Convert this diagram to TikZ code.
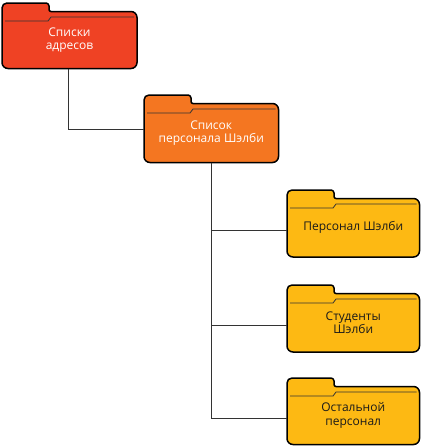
\documentclass[tikz,border=0pt]{standalone}
\usepackage{fontspec}
\setmainfont{Open Sans}
\usetikzlibrary{backgrounds}
\definecolor{cred}{HTML}{EF4224}
\definecolor{corange}{HTML}{F47621}
\definecolor{cgold}{HTML}{FDB913}
\definecolor{ctext}{HTML}{1A1A1A}
\tikzset{
  fbody/.style={draw=none, inner sep=0pt, outer sep=0pt, align=center,
    font=\fontsize{12}{13.5}\selectfont},
  folderline/.style={draw=black, line width=1.5pt, line join=round},
  innerline/.style={draw=black!80, line width=0.8pt},
  conn/.style={draw=black!80, line width=0.9pt},
}
\newcommand\folder[8]{%
  \pgfmathsetmacro\fx{(#2+#4)/2}%
  \pgfmathsetmacro\fy{-(#3+8.5+#5)/2}%
  \pgfmathsetmacro\fw{#4-#2}%
  \pgfmathsetmacro\fh{#5-#3-8.5}%
  \node[fbody, text=#7, minimum width=\fw pt, minimum height=\fh pt] (#1) at (\fx pt,\fy pt) {#8};
  \begin{scope}[on background layer]
    \draw[folderline, fill=#6]
      ([yshift=-20pt]#1.north west)
      [rounded corners=5pt] -- ([yshift=8.5pt]#1.north west)
      [rounded corners=3pt] -- ([xshift=47pt,yshift=8.5pt]#1.north west)
      [rounded corners=2pt] -- ([xshift=47pt]#1.north west)
      [rounded corners=6pt] -- (#1.north east)
      -- (#1.south east) -- (#1.south west)
      [sharp corners] -- cycle;
    \draw[innerline] ([xshift=3pt,yshift=-9.5pt]#1.north west)
      -- ([xshift=46pt,yshift=-9.5pt]#1.north west)
      -- ([xshift=49pt,yshift=-5.5pt]#1.north west)
      -- ([xshift=-3pt,yshift=-5.5pt]#1.north east);
  \end{scope}
}
\begin{document}
\begin{tikzpicture}
\useasboundingbox (0,0) rectangle (424pt,-447pt);
\folder{f1}{2}{3}{137}{68.5}{cred}{white}{Списки\\адресов}
\folder{f2}{144}{95}{278.5}{162.5}{corange}{white}{Список\\персонала Шэлби}
\folder{f3}{287}{190}{419.5}{257}{cgold}{ctext}{Персонал Шэлби}
\folder{f4}{287}{285}{419.5}{352}{cgold}{ctext}{Студенты\\Шэлби}
\folder{f5}{287}{378}{419.5}{444.5}{cgold}{ctext}{Остальной\\персонал}
\draw[conn] ([xshift=-1.5pt]f1.south) |- ([yshift=4pt]f2.west);
\draw[conn] (f2.south) |- ([yshift=-3pt]f3.west);
\draw[conn] (f2.south) |- ([yshift=-3pt]f4.west);
\draw[conn] (f2.south) |- ([yshift=-3pt]f5.west);
\end{tikzpicture}
\end{document}
